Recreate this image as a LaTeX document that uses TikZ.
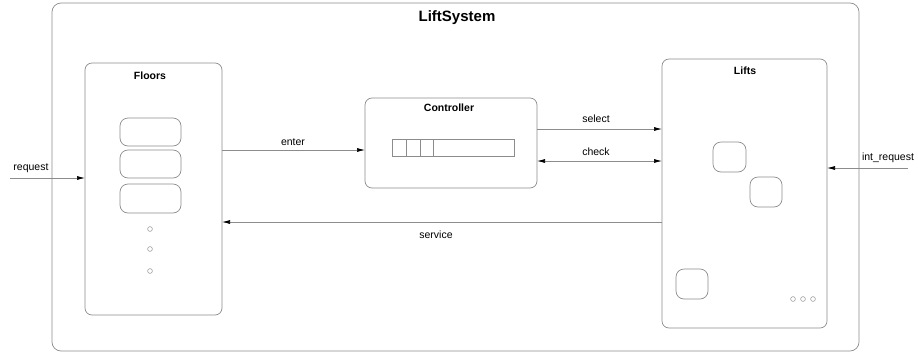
\documentclass[tikz,border=0pt]{standalone}
\usepackage{fontspec}
\setmainfont{Liberation Sans}
\usetikzlibrary{arrows.meta}
\definecolor{linegray}{HTML}{8C8C8C}
\begin{document}
\begin{tikzpicture}[x=1pt,y=-1pt,
  box/.style={draw=linegray, line width=0.7pt, rounded corners=7pt, inner sep=0pt, outer sep=0pt},
  cell/.style={box, rounded corners=8pt},
  title/.style={font=\bfseries\fontsize{10.5}{12}\selectfont, inner sep=0pt},
  lbl/.style={font=\fontsize{10.5}{12}\selectfont, inner sep=0pt},
  flow/.style={draw=linegray, line width=0.7pt, -{Latex[length=8pt,width=4pt,color=black]}},
  flowboth/.style={draw=linegray, line width=0.7pt, {Latex[length=8pt,width=4pt,color=black]}-{Latex[length=8pt,width=4pt,color=black]}},
  dot/.style={draw=linegray, line width=0.5pt}]
\useasboundingbox (0,0) rectangle (918,354);

% outer system boundary
\node[box, rounded corners=9pt, minimum width=807pt, minimum height=348pt] (sys) at (455.5,177) {};
\node[title, font=\bfseries\fontsize{15}{17}\selectfont] (systitle) at (457,18) {LiftSystem};

% Floors
\node[box, minimum width=137pt, minimum height=252pt] (floors) at (153.5,189) {};
\node[title] (floorstitle) at (150,76) {Floors};
\node[cell, minimum width=61pt, minimum height=28pt] (f1) at (150.5,132) {};
\node[cell, minimum width=61pt, minimum height=28pt] (f2) at (150.5,164) {};
\node[cell, minimum width=61pt, minimum height=29pt] (f3) at (150.5,198.5) {};
\foreach \dy in {229,249,271}
  \draw[dot] (150,\dy) circle[radius=2.4pt];

% Controller
\node[box, minimum width=172pt, minimum height=90pt] (ctrl) at (451,143) {};
\node[title] (ctrltitle) at (449,108) {Controller};
\node[draw=linegray, line width=0.6pt, inner sep=0pt, outer sep=0pt, minimum width=122pt, minimum height=17pt] (queue) at (453,147.5) {};
\foreach \qx in {406,420,433}
  \draw[linegray, line width=0.6pt] (queue.north -| \qx,0) -- (queue.south -| \qx,0);

% Lifts
\node[box, minimum width=165pt, minimum height=269pt] (lifts) at (744.5,193.5) {};
\node[title] (liftstitle) at (745,71) {Lifts};
\node[cell, minimum width=33pt, minimum height=30pt] (l1) at (729.5,157) {};
\node[cell, minimum width=32pt, minimum height=30pt] (l2) at (766,192) {};
\node[cell, minimum width=32pt, minimum height=30pt] (l3) at (692,284) {};
\foreach \dx in {793,803,813}
  \draw[dot] (\dx,299) circle[radius=2.4pt];

% external ends
\coordinate (reqsrc) at (10,178);
\coordinate (intsrc) at (908,168);

% connectors
\draw[flow] (reqsrc) -- (floors.west |- reqsrc);
\node[lbl] (reqlbl) at (31,168) {request};

\draw[flow] (floors.east |- 0,150) -- (ctrl.west |- 0,150);
\node[lbl] (enterlbl) at (293,142) {enter};

\draw[flow] (ctrl.east |- 0,129) -- (lifts.west |- 0,129);
\node[lbl] (selectlbl) at (596,119) {select};

\draw[flowboth] (ctrl.east |- 0,161) -- (lifts.west |- 0,161);
\node[lbl] (checklbl) at (596,152) {check};

\draw[flow] (lifts.west |- 0,222) -- (floors.east |- 0,222);
\node[lbl] (servicelbl) at (436,235) {service};

\draw[flow] (intsrc) -- (lifts.east |- intsrc);
\node[lbl] (intlbl) at (888,158) {int\_request};
\end{tikzpicture}
\end{document}
